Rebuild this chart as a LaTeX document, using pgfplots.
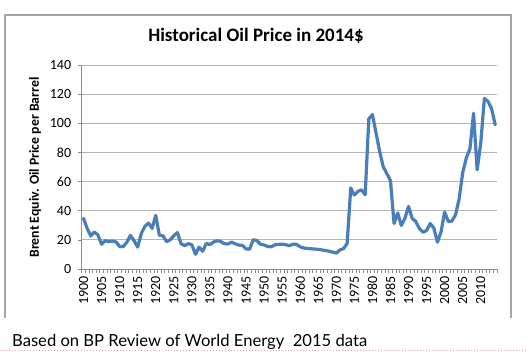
\documentclass[border=0pt]{standalone}
\usepackage{pgfplots}
\pgfplotsset{compat=1.18}
\usepackage{pgfplotstable}
\usepackage{fontspec}
\setmainfont{Carlito}
\newfontfamily\footfont{Lato}
\definecolor{oilblue}{HTML}{4A7EBB}
\definecolor{gridgray}{HTML}{B4B4B4}
\definecolor{axisgray}{HTML}{8C8C8C}
\definecolor{boxgray}{HTML}{A6A6A6}
\definecolor{dotpink}{HTML}{D9A6B8}

\pgfplotstableread{
year price
1900 34.8
1901 27.9
1902 22.7
1903 25.4
1904 23.3
1905 17.0
1906 19.5
1907 18.8
1908 19.2
1909 18.6
1910 15.5
1911 15.3
1912 18.4
1913 23.1
1914 19.4
1915 15.0
1916 24.3
1917 29.3
1918 31.5
1919 27.9
1920 36.8
1921 23.2
1922 22.8
1923 18.8
1924 20.0
1925 22.8
1926 25.0
1927 17.4
1928 16.0
1929 17.4
1930 16.6
1931 10.1
1932 15.0
1933 12.2
1934 17.6
1935 16.7
1936 18.5
1937 19.4
1938 18.9
1939 17.3
1940 17.2
1941 18.4
1942 17.3
1943 16.4
1944 16.2
1945 13.8
1946 13.6
1947 20.1
1948 19.5
1949 17.0
1950 16.5
1951 15.5
1952 15.2
1953 16.6
1954 16.9
1955 17.0
1956 16.7
1957 16.0
1958 17.0
1959 16.9
1960 15.2
1961 14.4
1962 14.1
1963 13.9
1964 13.7
1965 13.5
1966 13.1
1967 12.7
1968 12.2
1969 11.6
1970 10.9
1971 13.1
1972 14.0
1973 17.5
1974 55.6
1975 50.7
1976 53.3
1977 54.3
1978 50.9
1979 103.0
1980 106.0
1981 93.5
1982 80.8
1983 70.1
1984 65.5
1985 60.6
1986 31.2
1987 38.4
1988 29.9
1989 34.8
1990 43.0
1991 34.8
1992 32.6
1993 27.8
1994 25.3
1995 26.4
1996 31.2
1997 28.1
1998 18.4
1999 25.5
2000 39.1
2001 32.6
2002 32.9
2003 37.1
2004 48.0
2005 66.0
2006 76.3
2007 82.4
2008 106.9
2009 68.0
2010 86.4
2011 117.0
2012 115.1
2013 110.0
2014 98.95
}\oildata

\begin{document}
\begin{tikzpicture}[x=1pt,y=1pt]
\useasboundingbox (0,0) rectangle (527,354);
\fill[white] (0,0) rectangle (527,354);
\draw[boxgray, line width=2pt] (5,36) -- (5,339) -- (511,339) -- (511,36);
\node[font=\bfseries\fontsize{19}{22}\selectfont, anchor=base] at (256,312) {Historical Oil Price in 2014\$};
\node[font=\bfseries\fontsize{13.8}{16}\selectfont, rotate=90] at (35,186.5) {Brent Equiv. Oil Price per Barrel};
\begin{axis}[
  at={(81.7pt,85pt)}, anchor=south west, scale only axis,
  width=415.3pt, height=204pt,
  xmin=1899.5, xmax=2014.5, ymin=0, ymax=140,
  ytick={0,20,...,140},
  xtick={1899.5,1900.5,...,2014.5},
  xticklabels={},
  extra x ticks={1900,1905,...,2010},
  extra x tick style={major tick length=0pt, grid=none},
  axis x line*=bottom, axis y line*=left,
  axis line style={axisgray, line width=1pt},
  ymajorgrids, grid style={gridgray, line width=1pt},
  tick align=outside, major tick length=4pt,
  tick style={axisgray, line width=0.7pt},
  /pgf/number format/assume math mode=true,
  /pgf/number format/1000 sep={},
  tick label style={font=\fontsize{14}{16}\selectfont, text=black},
  xticklabel style={rotate=90, anchor=east},
  xticklabel shift=4pt,
  yticklabel shift=3pt,
  clip=false,
]
\addplot[oilblue, line width=3.2pt, line join=round, line cap=round, mark=none] table[x=year,y=price]{\oildata};
\end{axis}
\node[anchor=base west, inner sep=0pt, font=\footfont\fontsize{16.6}{18}\selectfont] at (12,7.3) {Based on BP Review of World Energy\ \ 2015 data};
\draw[dotpink, line width=0.8pt, dash pattern=on 1pt off 2pt] (0,3.5) -- (527,3.5);
\end{tikzpicture}
\end{document}
